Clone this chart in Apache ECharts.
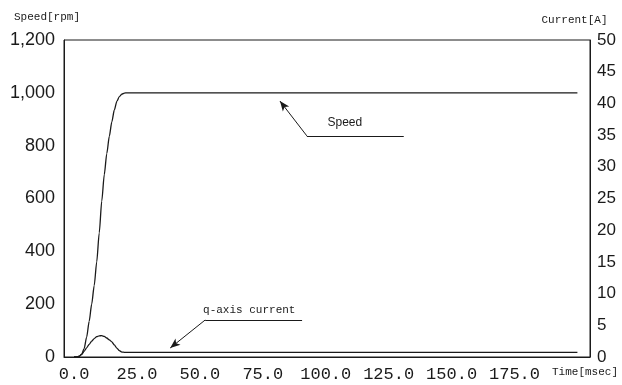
<!DOCTYPE html>
<html>
<head>
<meta charset="utf-8">
<script src="https://cdn.jsdelivr.net/npm/echarts@6/dist/echarts.min.js"></script>
<style>
  html, body { margin: 0; padding: 0; background: #fff; }
  #chart { width: 622px; height: 385px; }
</style>
</head>
<body>
<div id="chart"></div>
<script>
// Time samples [msec]
const timeMs = [0, 1, 2, 3, 4, 5, 6, 7, 8, 9, 10, 11, 12, 13, 14, 15, 16, 17, 18, 19, 20, 21, 22, 200];
// Motor speed [rpm]
const speedRpm = [0, 0, 2, 10, 32, 75, 135, 200, 270, 360, 470, 590, 690, 770, 835, 890, 935, 968, 986, 995, 999, 1000, 1000, 1000];
// q-axis current [A]
const qCurrent = [0, 0.02, 0.12, 0.4, 0.9, 1.45, 2.0, 2.5, 2.9, 3.2, 3.34, 3.36, 3.25, 3.0, 2.7, 2.4, 1.9, 1.4, 1.0, 0.78, 0.74, 0.74, 0.74, 0.74];

// Tick labels
const timeTicks = [0, 25, 50, 75, 100, 125, 150, 175];
const speedTicks = ['0', '200', '400', '600', '800', '1,000', '1,200'];

const ink = '#1a1a1a';
const sans = 'Liberation Sans';
const mono = 'Liberation Mono';

const pair = (xs, ys) => xs.map((x, i) => [x, ys[i]]);

const chart = echarts.init(document.getElementById('chart'));
chart.setOption({
  animation: false,
  backgroundColor: '#fff',
  grid: {
    left: 64, right: 32, top: 40, bottom: 28,
    show: true, borderColor: ink, borderWidth: 1
  },
  xAxis: {
    type: 'value',
    min: -4, max: 205,
    name: 'Time[msec]',
    nameLocation: 'end',
    nameGap: -38,
    nameTextStyle: { fontFamily: mono, fontSize: 11, color: ink, verticalAlign: 'top', padding: [10, 0, 0, 0] },
    axisLine: { show: true, onZero: false, lineStyle: { color: ink } },
    axisTick: { show: false },
    splitLine: { show: false },
    axisLabel: {
      customValues: timeTicks,
      formatter: v => v.toFixed(1),
      fontFamily: mono, fontSize: 17, color: ink, margin: 9
    }
  },
  yAxis: [
    {
      type: 'value',
      min: 0, max: 1200, interval: 200,
      name: 'Speed[rpm]',
      nameLocation: 'end',
      nameGap: 17,
      nameTextStyle: { fontFamily: mono, fontSize: 11, color: ink, align: 'center', padding: [0, 34, 0, 0] },
      axisLine: { show: true, onZero: false, lineStyle: { color: ink } },
      axisTick: { show: false },
      splitLine: { show: false },
      axisLabel: {
        formatter: v => speedTicks[Math.round(v / 200)],
        fontFamily: sans, fontSize: 18, color: ink, margin: 9
      }
    },
    {
      type: 'value',
      min: 0, max: 50, interval: 5,
      name: 'Current[A]',
      nameLocation: 'end',
      nameGap: 14,
      nameTextStyle: { fontFamily: mono, fontSize: 11, color: ink, align: 'center', padding: [0, 31, 0, 0] },
      axisLine: { show: true, onZero: false, lineStyle: { color: ink } },
      axisTick: { show: false },
      splitLine: { show: false },
      axisLabel: { fontFamily: sans, fontSize: 17, color: ink, margin: 7 }
    }
  ],
  series: [
    {
      name: 'Speed',
      type: 'line',
      yAxisIndex: 0,
      data: pair(timeMs, speedRpm),
      smooth: 0.25,
      smoothMonotone: 'x',
      showSymbol: false,
      lineStyle: { color: ink, width: 1.3 },
      markLine: {
        silent: true,
        symbol: ['none', 'arrow'],
        symbolSize: [6, 10],
        lineStyle: { type: 'solid', color: ink, width: 1 },
        label: { show: false },
        data: [
          [{ coord: [131, 837], symbol: 'none' }, { coord: [92.5, 837], symbol: 'none' }],
          [{ coord: [92.5, 837] }, { coord: [81.8, 969] }]
        ]
      },
      markPoint: {
        silent: true,
        symbol: 'circle', symbolSize: 0,
        label: { show: true, formatter: 'Speed', fontFamily: sans, fontSize: 12, color: ink, position: 'inside' },
        data: [{ coord: [107.6, 886] }]
      }
    },
    {
      name: 'q-axis current',
      type: 'line',
      yAxisIndex: 1,
      data: pair(timeMs, qCurrent),
      smooth: 0.25,
      smoothMonotone: 'x',
      showSymbol: false,
      lineStyle: { color: ink, width: 1.3 },
      markLine: {
        silent: true,
        symbol: ['none', 'arrow'],
        symbolSize: [6, 10],
        lineStyle: { type: 'solid', color: ink, width: 1 },
        label: { show: false },
        data: [
          [{ coord: [90.6, 5.84], symbol: 'none' }, { coord: [52.1, 5.84], symbol: 'none' }],
          [{ coord: [52.1, 5.84] }, { coord: [38.2, 1.42] }]
        ]
      },
      markPoint: {
        silent: true,
        symbol: 'circle', symbolSize: 0,
        label: { show: true, formatter: 'q-axis current', fontFamily: mono, fontSize: 11, color: ink, position: 'inside' },
        data: [{ coord: [69.6, 7.4] }]
      }
    }
  ]
});
</script>
</body>
</html>
